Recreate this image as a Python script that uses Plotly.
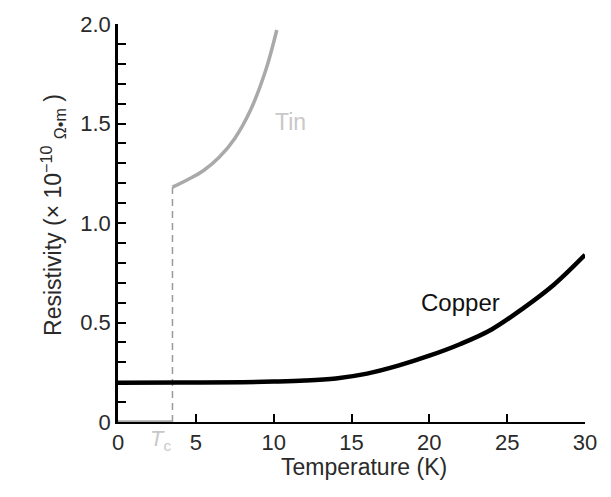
import plotly.graph_objects as go

# Data
copper_T = [0, 4, 8, 10, 12, 14, 16, 18, 20, 22, 24, 26, 28, 30]
copper_R = [0.197, 0.198, 0.2, 0.203, 0.208, 0.219, 0.243, 0.283, 0.333, 0.392, 0.465, 0.57, 0.69, 0.84]

tin_sc_T = [0, 3.5]
tin_sc_R = [0, 0]
tin_T = [3.5, 4.5, 5.5, 6.5, 7.5, 8.5, 9.5, 10.2]
tin_R = [1.18, 1.219, 1.264, 1.33, 1.425, 1.565, 1.77, 1.97]

Tc = 3.5
Tc_R = [0, 1.18]

x_ticks = [0, 5, 10, 15, 20, 25, 30]
y_ticks = [0, 0.5, 1.0, 1.5, 2.0]
y_tick_text = ["0", "0.5", "1.0", "1.5", "2.0"]

FONT = "Liberation Sans, Arial, Helvetica, sans-serif"
TIN_COLOR = "#a9a9a9"
TEXT = "#2a2a2a"

fig = go.Figure()
fig.add_trace(go.Scatter(x=[Tc, Tc], y=Tc_R, mode="lines",
                         line=dict(color="#9a9a9a", width=1.5, dash="7px,5px"),
                         hoverinfo="skip", showlegend=False))
fig.add_trace(go.Scatter(x=tin_sc_T, y=tin_sc_R, mode="lines",
                         line=dict(color=TIN_COLOR, width=3.5), showlegend=False))
fig.add_trace(go.Scatter(x=tin_T, y=tin_R, mode="lines", line_shape="spline",
                         line=dict(color=TIN_COLOR, width=3.5), showlegend=False))
fig.add_trace(go.Scatter(x=copper_T, y=copper_R, mode="lines", line_shape="spline",
                         line=dict(color="black", width=4.5), showlegend=False))

fig.add_annotation(x=11.05, y=1.51, text="Tin", showarrow=False,
                   font=dict(family=FONT, size=23, color="#c8c8c8"))
fig.add_annotation(x=21.97, y=0.6, text="Copper", showarrow=False,
                   font=dict(family=FONT, size=24, color="#111111"))
fig.add_annotation(x=2.7, y=-0.085, yref="paper", text="<i>T</i><sub>c</sub>",
                   showarrow=False,
                   font=dict(family=FONT, size=22, color="#c8c8c8"))
fig.add_annotation(x=-0.178, xref="paper", y=0.52, yref="paper",
                   text="Resistivity (× 10<sup>−10</sup> <sub>Ω•m</sub> )",
                   textangle=-90, showarrow=False,
                   font=dict(family=FONT, size=23, color=TEXT))
fig.add_annotation(x=0.527, xref="paper", y=-0.152, yref="paper",
                   text="Temperature (K)", showarrow=False,
                   font=dict(family=FONT, size=23, color=TEXT))

fig.update_xaxes(range=[0, 30], tickvals=x_ticks, ticks="inside", ticklen=8,
                 tickwidth=1.5, tickcolor="black", showline=True, linecolor="black",
                 linewidth=2, showgrid=False, zeroline=False,
                 tickfont=dict(family=FONT, size=22, color=TEXT))
fig.update_yaxes(range=[0, 2.0], tickvals=y_ticks, ticktext=y_tick_text,
                 ticks="inside", ticklen=8, tickwidth=2, tickcolor="black",
                 showline=True, linecolor="black", linewidth=2.5, showgrid=False,
                 zeroline=False,
                 minor=dict(dtick=0.1, tick0=0, ticks="inside", ticklen=8,
                            tickwidth=2, tickcolor="black", showgrid=False),
                 tickfont=dict(family=FONT, size=22, color=TEXT))

fig.update_layout(width=611, height=497, autosize=False,
                  margin=dict(l=118, r=26, t=24, b=75),
                  plot_bgcolor="white", paper_bgcolor="white")

# remove the default 8px page margin so the figure sits at the window's corner
fig.write_html("out.html", config={"displayModeBar": False},
               post_script="document.body.style.margin='0';")
